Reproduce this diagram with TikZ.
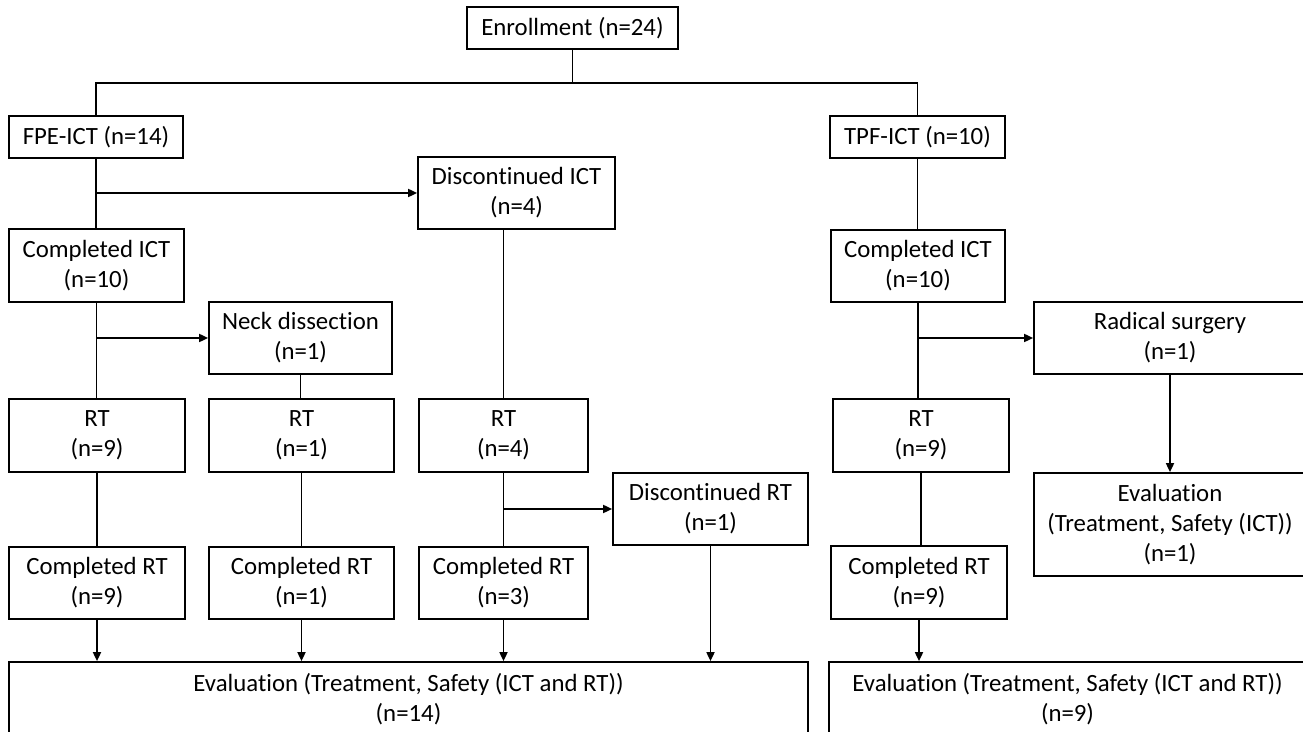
\documentclass[tikz,border=0pt]{standalone}
\usepackage{fontspec}
\setmainfont{Carlito}[Ligatures={NoCommon}]
\usetikzlibrary{arrows.meta,positioning,calc}

\begin{document}
\begin{tikzpicture}[x=0.5pt,y=-0.5pt,
  box/.style={draw,line width=0.85pt,align=center,inner sep=0pt,font=\fontsize{12.4}{15}\selectfont},
  link/.style={line width=0.85pt},
  arr/.style={line width=0.85pt,-{Triangle[length=4.5pt,width=4pt]}}]
\useasboundingbox (0,0) rectangle (1303,732);
\clip (0,0) rectangle (1303,732);
\fill[white] (0,0) rectangle (1303,732);
% top
\node[box,minimum width=105.5pt,minimum height=21pt] (enroll) at (572.5,28) {Enrollment (n=24)};
\node[box,minimum width=87pt,minimum height=21pt] (fpe) at (96,137) {FPE-ICT (n=14)};
\node[box,minimum width=87.5pt,minimum height=21pt] (tpf) at (917.5,137) {TPF-ICT (n=10)};
\coordinate (split) at (572.5,83);
% FPE arm
\node[box,minimum width=98.5pt,minimum height=36pt] (dict) at (516.5,193) {Discontinued ICT\\(n=4)};
\node[box,minimum width=87.5pt,minimum height=36.5pt] (cict1) at (96.5,265.5) {Completed ICT\\(n=10)};
\node[box,minimum width=91.5pt,minimum height=36pt] (neck) at (300.5,338) {Neck dissection\\(n=1)};
\foreach \n/\x/\w/\k in {1/97/88/9,2/301.5/92.5/1,3/503.5/84.5/4}{
  \node[box,minimum width=\w pt,minimum height=36.5pt] (rt\n) at (\x,435.5) {RT\\(n=\k)};
}
\node[box,minimum width=97.5pt,minimum height=36pt] (drt) at (710.5,509) {Discontinued RT\\(n=1)};
\foreach \n/\x/\w/\k in {1/97/88/9,2/301.5/92.5/1,3/503.5/84.5/3}{
  \node[box,minimum width=\w pt,minimum height=36pt] (crt\n) at (\x,583) {Completed RT\\(n=\k)};
}
\node[box,minimum width=399.5pt,minimum height=37pt] (evalL) at (408.5,699) {Evaluation (Treatment, Safety (ICT and RT))\\(n=14)};
% TPF arm
\node[box,minimum width=87pt,minimum height=36pt] (cict2) at (918,266) {Completed ICT\\(n=10)};
\node[box,minimum width=136pt,minimum height=36pt] (radical) at (1170,338) {Radical surgery\\(n=1)};
\node[box,minimum width=88pt,minimum height=36.5pt] (rt4) at (921,435.5) {RT\\(n=9)};
\node[box,minimum width=136pt,minimum height=51.5pt] (evalS) at (1170,524.5) {Evaluation\\(Treatment, Safety (ICT))\\(n=1)};
\node[box,minimum width=88pt,minimum height=36.5pt] (crt4) at (919,582.5) {Completed RT\\(n=9)};
\node[box,minimum width=238.5pt,minimum height=37pt] (evalR) at (1067.5,699) {Evaluation (Treatment, Safety (ICT and RT))\\(n=9)};
% connectors
\draw[link] (enroll.south) -- (split);
\draw[link] (fpe.north) |- (split) -| (tpf.north);
\draw[link] (fpe.south) -- (fpe.south |- cict1.north);
\draw[arr] (fpe.south |- dict.west) -- (dict.west);
\draw[link] (cict1.south) -- (cict1.south |- rt1.north);
\draw[arr] (cict1.south |- neck.west) -- (neck.west);
\draw[link] (neck.south) -- (neck.south |- rt2.north);
\draw[link] (rt3.north |- dict.south) -- (rt3.north);
\foreach \n in {1,2,3}{
  \draw[link] (rt\n.south) -- (rt\n.south |- crt\n.north);
}
\draw[arr] (rt3.south |- drt.west) -- (drt.west);
\foreach \b in {crt1,crt2,crt3,drt}{
  \draw[arr] (\b.south) -- (\b.south |- evalL.north);
}
\draw[link] (tpf.south) -- (tpf.south |- cict2.north);
\draw[link] (cict2.south) -- (cict2.south |- rt4.north);
\draw[arr] (cict2.south |- radical.west) -- (radical.west);
\draw[arr] (radical.south) -- (evalS.north);
\draw[link] (rt4.south) -- (rt4.south |- crt4.north);
\draw[arr] (crt4.south) -- (crt4.south |- evalR.north);
\end{tikzpicture}
\end{document}
